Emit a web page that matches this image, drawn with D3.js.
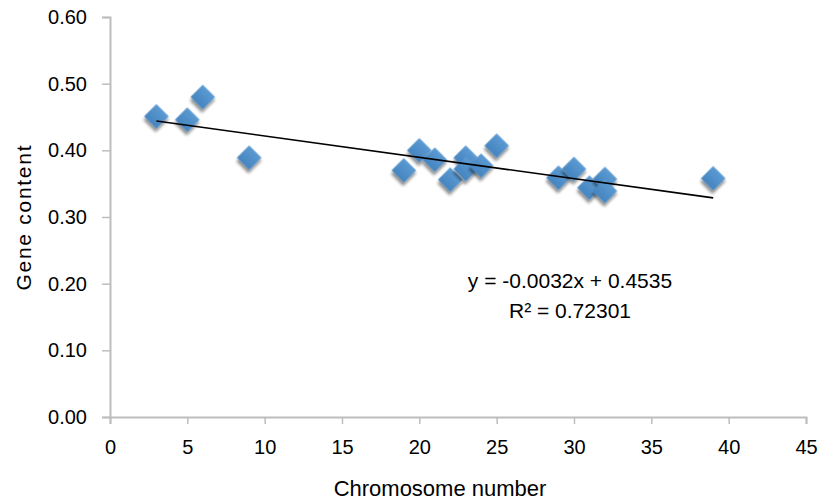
<!DOCTYPE html>
<html><head><meta charset="utf-8">
<script src="https://cdn.jsdelivr.net/npm/d3@7"></script>
<style>
body{margin:0;background:#fff;}
text{font-family:"Liberation Sans",Arial,sans-serif;fill:#000;}
</style></head>
<body>
<svg id="c" width="822" height="502"></svg>
<script>
const chromosomes = [3, 5, 6, 9, 19, 20, 21, 22, 23, 23, 24, 25, 29, 30, 31, 32, 32, 39];
const geneContent = [0.451, 0.446, 0.480, 0.389, 0.370, 0.400, 0.386, 0.356, 0.389, 0.372, 0.377, 0.407, 0.359, 0.372, 0.344, 0.357, 0.339, 0.358];
const xTicks = [0, 5, 10, 15, 20, 25, 30, 35, 40, 45];
const yTicks = [0, 0.1, 0.2, 0.3, 0.4, 0.5, 0.6];
const slope = -0.0032, intercept = 0.4535;
const eqLines = ["y = -0.0032x + 0.4535", "R² = 0.72301"];

const svg = d3.select("#c");
const x = d3.scaleLinear().domain([0, 45]).range([110, 806]);
const y = d3.scaleLinear().domain([0, 0.6]).range([417, 17]);

const defs = svg.append("defs");
const f = defs.append("filter").attr("id","sh").attr("x","-50%").attr("y","-50%").attr("width","200%").attr("height","200%");
f.append("feGaussianBlur").attr("in","SourceAlpha").attr("stdDeviation",1.8).attr("result","b");
f.append("feOffset").attr("in","b").attr("dx",1.5).attr("dy",2.5).attr("result","o");
f.append("feComponentTransfer").attr("in","o").attr("result","s")
  .append("feFuncA").attr("type","linear").attr("slope",0.45);
const fm = f.append("feMerge");
fm.append("feMergeNode").attr("in","s");
fm.append("feMergeNode").attr("in","SourceGraphic");

const grad = defs.append("linearGradient").attr("id","dg").attr("x1","0").attr("y1","0").attr("x2","0").attr("y2","1");
grad.append("stop").attr("offset","0").attr("stop-color","#5b9ad2");
grad.append("stop").attr("offset","1").attr("stop-color","#4584bf");

const axisColor = "#bdbdbd";
const yAxis = svg.append("g").attr("transform","translate(110,0)")
  .call(d3.axisLeft(y).tickValues(yTicks).tickFormat(d3.format(".2f")).tickSize(8).tickPadding(15));
const xAxis = svg.append("g").attr("transform","translate(0,417)")
  .call(d3.axisBottom(x).tickValues(xTicks).tickSize(7).tickPadding(16));
[yAxis, xAxis].forEach(g => {
  g.selectAll("path").attr("stroke", axisColor).attr("stroke-width", 2);
  g.selectAll("line").attr("stroke", axisColor).attr("stroke-width", 1.5);
  g.selectAll("text").attr("font-size", 20).attr("fill","#000")
   .style("font-family",'"Liberation Sans",Arial,sans-serif');
});

svg.append("text").attr("transform","translate(31,218) rotate(-90)")
  .attr("text-anchor","middle").attr("font-size",21)
  .attr("textLength",145).attr("lengthAdjust","spacing").text("Gene content");
svg.append("text").attr("x",440).attr("y",496)
  .attr("text-anchor","middle").attr("font-size",22).text("Chromosome number");

const pts = chromosomes.map((c,i)=>({c, v: geneContent[i]}));
svg.append("g").selectAll("path").data(pts).join("path")
  .attr("d", d3.symbol(d3.symbolSquare, 300))
  .attr("transform", d => `translate(${x(d.c)},${y(d.v)}) rotate(45)`)
  .attr("fill", "url(#dg)").attr("filter","url(#sh)");

const xMin = d3.min(chromosomes), xMax = d3.max(chromosomes);
svg.append("line")
  .attr("x1", x(xMin)).attr("y1", y(slope*xMin+intercept))
  .attr("x2", x(xMax)).attr("y2", y(slope*xMax+intercept))
  .attr("stroke","#000").attr("stroke-width",1.6);

svg.append("g").selectAll("text").data(eqLines).join("text")
  .attr("x", 570).attr("y", (d,i)=> 288 + i*30)
  .attr("text-anchor","middle").attr("font-size",21).attr("fill","#000").text(d=>d);
</script>
</body></html>
